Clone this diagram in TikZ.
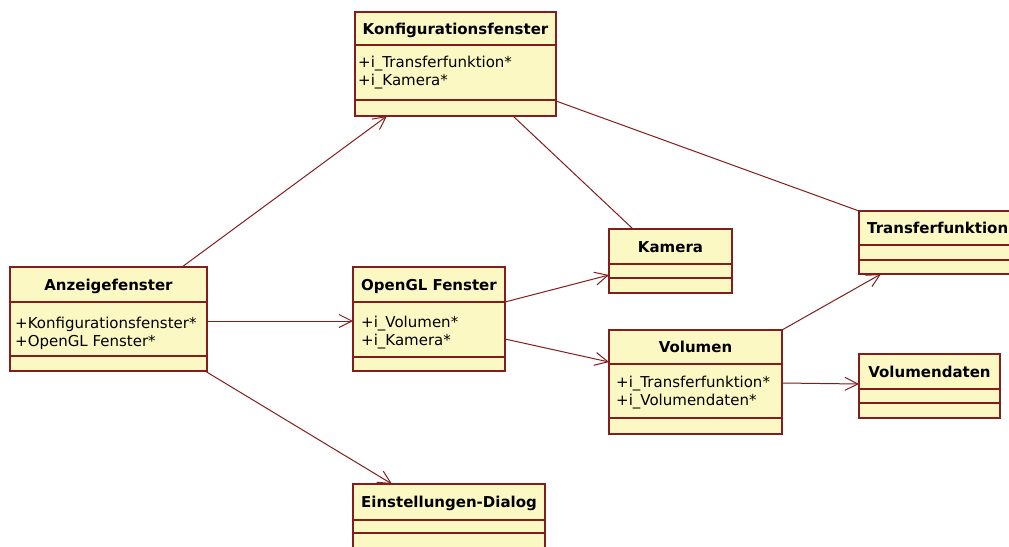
\documentclass[tikz,border=0pt]{standalone}
\usepackage{fontspec}
\setmainfont{DejaVu Sans}
\usetikzlibrary{arrows.meta,calc}
\definecolor{umlfill}{RGB}{251,248,196}
\definecolor{umlline}{RGB}{130,30,30}
\tikzset{
  cls/.style={draw=umlline, fill=umlfill, line width=1.2pt, inner sep=0pt, outer sep=0pt, anchor=north west},
  sepline/.style={draw=umlline, line width=1.2pt},
  ttl/.style={font=\fontsize{15}{18}\selectfont\bfseries, inner sep=0pt, anchor=base},
  ttlw/.style={font=\fontsize{15}{18}\selectfont\bfseries, inner sep=0pt, anchor=base west},
  attr/.style={font=\fontsize{15}{18}\selectfont, inner sep=0pt, anchor=base west},
  conn/.style={draw=umlline, line width=1pt},
  arr/.style={conn, -{Straight Barb[length=13pt,width=13pt,line width=1pt]}},
}
\newcommand\classbox[7]{%
  \node[cls, minimum width={#4-#2}, minimum height={#5-#3}] (#1) at (#2,#3) {};
  \draw[sepline] (#2,#6) -- (#4,#6);
  \draw[sepline] (#2,#7) -- (#4,#7);
}
\begin{document}
\begin{tikzpicture}[x=1pt,y=-1pt]
\useasboundingbox (0,0) rectangle (1009,546);
\clip (0,0) rectangle (1009,546);
\fill[white] (0,0) rectangle (1009,546);

% classes
\classbox{konf}{355}{12}{556}{116}{45}{100}
\classbox{anz}{10}{267}{207}{371}{302}{356}
\classbox{ogl}{353}{267}{505}{371}{302}{357}
\classbox{kam}{609}{229}{732}{293}{264}{278}
\classbox{trans}{859}{211}{1030}{274}{245}{260}
\classbox{vol}{609}{330}{782}{434}{364}{418}
\classbox{vdat}{859}{354}{1000}{418}{389}{403}
\classbox{einst}{353}{484}{545}{580}{520}{533}

% titles
\node[ttl] (konf-t) at (455.5,34) {Konfigurationsfenster};
\node[ttl] (anz-t) at (108.5,290.5) {Anzeigefenster};
\node[ttl] (ogl-t) at (429,290.5) {OpenGL Fenster};
\node[ttl] (kam-t) at (670.5,252.5) {Kamera};
\node[ttlw] (trans-t) at (867,233.5) {Transferfunktion};
\node[ttl] (vol-t) at (695.5,352.5) {Volumen};
\node[ttl] (vdat-t) at (929.5,377) {Volumendaten};
\node[ttl] (einst-t) at (449,507.5) {Einstellungen-Dialog};

% attributes
\node[attr] (konf-a1) at (358,67.5) {+i\_Transferfunktion*};
\node[attr] (konf-a2) at (358,85.5) {+i\_Kamera*};
\node[attr] (anz-a1) at (15,328.5) {+Konfigurationsfenster*};
\node[attr] (anz-a2) at (15,346.5) {+OpenGL Fenster*};
\node[attr] (ogl-a1) at (361,327.5) {+i\_Volumen*};
\node[attr] (ogl-a2) at (361,345.5) {+i\_Kamera*};
\node[attr] (vol-a1) at (616,387.5) {+i\_Transferfunktion*};
\node[attr] (vol-a2) at (616,405.5) {+i\_Volumendaten*};

% connectors
\draw[arr] ([xshift=172pt]anz.north west) -- ([xshift=32pt]konf.south west);
\draw[arr] ([yshift=-2pt]anz.east) -- ([yshift=-2pt]ogl.west);
\draw[arr] ([xshift=-2pt]anz.south east) -- ([xshift=39pt]einst.north west);
\draw[conn] ([xshift=158pt]konf.south west) -- ([xshift=24pt]kam.north west);
\draw[conn] ([yshift=-89pt]konf.north east) -- (trans.north west);
\draw[arr] ([yshift=-35pt]ogl.north east) -- ([yshift=-46pt]kam.north west);
\draw[arr] ([yshift=-72pt]ogl.north east) -- ([yshift=-32pt]vol.north west);
\draw[arr] (vol.north east) -- ([xshift=22pt]trans.south west);
\draw[arr] ([yshift=-53pt]vol.north east) -- ([yshift=-30pt]vdat.north west);
\end{tikzpicture}
\end{document}
